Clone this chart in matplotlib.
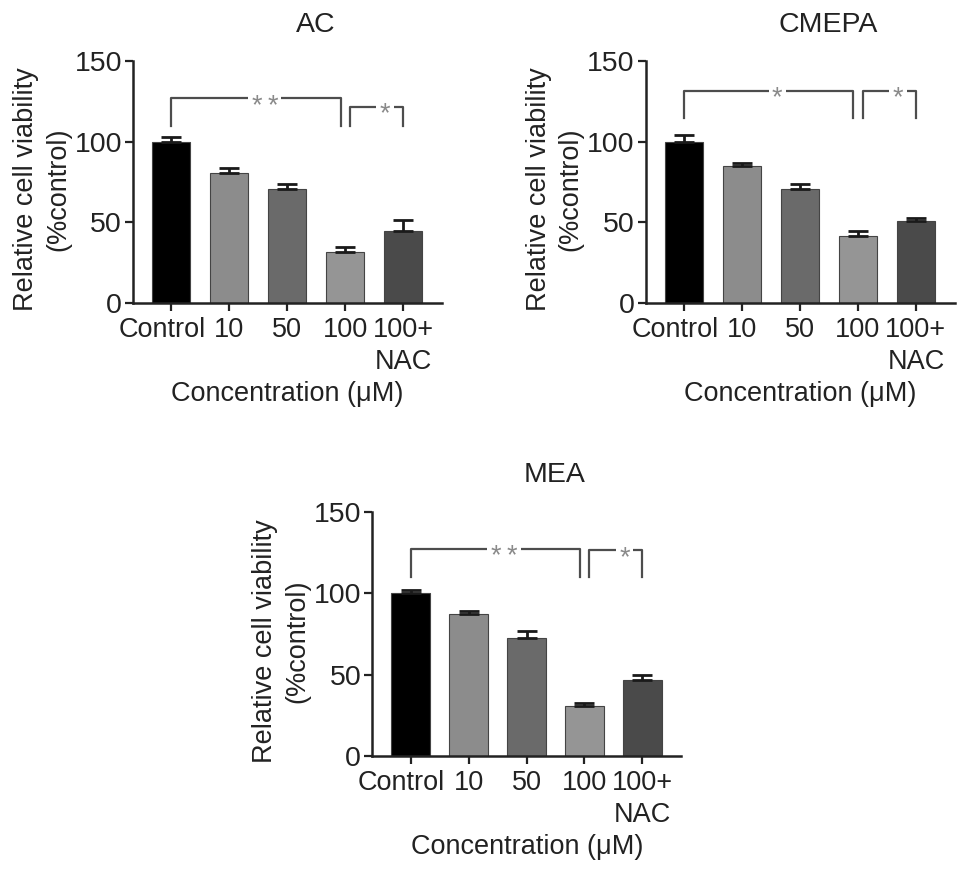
import numpy as np
import matplotlib.pyplot as plt
from matplotlib.transforms import ScaledTranslation

plt.rcParams['font.family'] = ['Liberation Sans', 'DejaVu Sans']

# dados
groups = ["Control", "10", "50", "100", "100+\nNAC"]
bar_colors = ['#000000', '#8c8c8c', '#6a6a6a', '#959595', '#4a4a4a']

ac_mean = [100, 80.5, 71, 31.5, 44.5]
ac_err = [3, 3.2, 2.5, 3.2, 7]
ac_brackets = [(0, 3, 127, "**"), (3, 4, 121.5, "*")]

cmepa_mean = [100, 85, 70.5, 41.5, 51]
cmepa_err = [4, 1.8, 3.5, 3.2, 1.8]
cmepa_brackets = [(0, 3, 131.5, "*"), (3, 4, 131.5, "*")]

mea_mean = [100, 87.5, 72.5, 30.5, 46.5]
mea_err = [2, 1.5, 4.5, 2.2, 3.5]
mea_brackets = [(0, 3, 127.5, "**"), (3, 4, 126.5, "*")]

FS = 19.5
AXC = '#222222'


def desenhar_painel(ax, titulo, medias, erros, colchetes, perna):
    x = np.arange(len(groups))
    ax.bar(x, medias, width=0.66, color=bar_colors, edgecolor='#444444',
           linewidth=0.8, zorder=2)
    ax.errorbar(x, medias, yerr=[np.zeros(len(erros)), erros], fmt='none',
                ecolor='#1a1a1a', elinewidth=2, capsize=7, capthick=2, zorder=3)

    ax.set_xlim(-0.66, 4.67)
    ax.set_ylim(0, 150)
    ax.set_yticks([0, 50, 100, 150])
    ax.set_xticks(x)
    ax.set_xticklabels(groups, fontsize=FS, color=AXC, linespacing=1.3)
    ax.tick_params(axis='y', labelsize=FS + 1, colors=AXC, length=6, width=1.6, pad=2)
    ax.tick_params(axis='x', colors=AXC, length=6, width=1.6, pad=4)

    # "Control" fica um pouco a esquerda do tick no original
    lab = ax.get_xticklabels()[0]
    lab.set_transform(lab.get_transform() + ScaledTranslation(-0.09, 0, ax.figure.dpi_scale_trans))

    for s in ['top', 'right']:
        ax.spines[s].set_visible(False)
    for s in ['left', 'bottom']:
        ax.spines[s].set_linewidth(1.8)
        ax.spines[s].set_color(AXC)

    ax.text(0.59, 1.15, titulo, transform=ax.transAxes, ha='center', va='center',
            fontsize=FS + 1, color=AXC)
    ax.text(-0.295, 0.47, "Relative cell viability\n(%control)", transform=ax.transAxes,
            rotation=90, ha='center', va='center', fontsize=FS, color=AXC,
            linespacing=1.3)
    ax.text(0.5, -0.375, "Concentration (\u03bcM)", transform=ax.transAxes,
            ha='center', va='center', fontsize=FS, color=AXC)

    # colchetes de significancia
    gap = 0.08
    for i, j, h, estrela in colchetes:
        x0 = i + gap if i != 0 else i
        x1 = j - gap if j != len(groups) - 1 else j
        ax.plot([x0, x0, x1, x1], [perna, h, h, perna], color='#4d4d4d', lw=1.6,
                clip_on=False, zorder=4)
        xm = (x0 + x1) / 2 + 0.15
        n = len(estrela)
        for k in range(n):
            dx = (k - (n - 1) / 2) * 11.5
            ax.annotate("*", xy=(xm, h), xytext=(dx, -10.5), textcoords='offset points',
                        ha='center', va='baseline', fontsize=FS, color='#8a8a8a',
                        bbox=dict(fc='white', ec='none', pad=2.5), zorder=5,
                        annotation_clip=False)


fig = plt.figure(figsize=(9.69, 8.76), dpi=100)
ax1 = fig.add_axes([0.1373, 0.654, 0.3189, 0.2763])
ax2 = fig.add_axes([0.6664, 0.654, 0.3189, 0.2763])
ax3 = fig.add_axes([0.3842, 0.137, 0.3189, 0.2785])

desenhar_painel(ax1, "AC", ac_mean, ac_err, ac_brackets, 110)
desenhar_painel(ax2, "CMEPA", cmepa_mean, cmepa_err, cmepa_brackets, 115)
desenhar_painel(ax3, "MEA", mea_mean, mea_err, mea_brackets, 110)

fig.savefig("out.png", dpi=100)
